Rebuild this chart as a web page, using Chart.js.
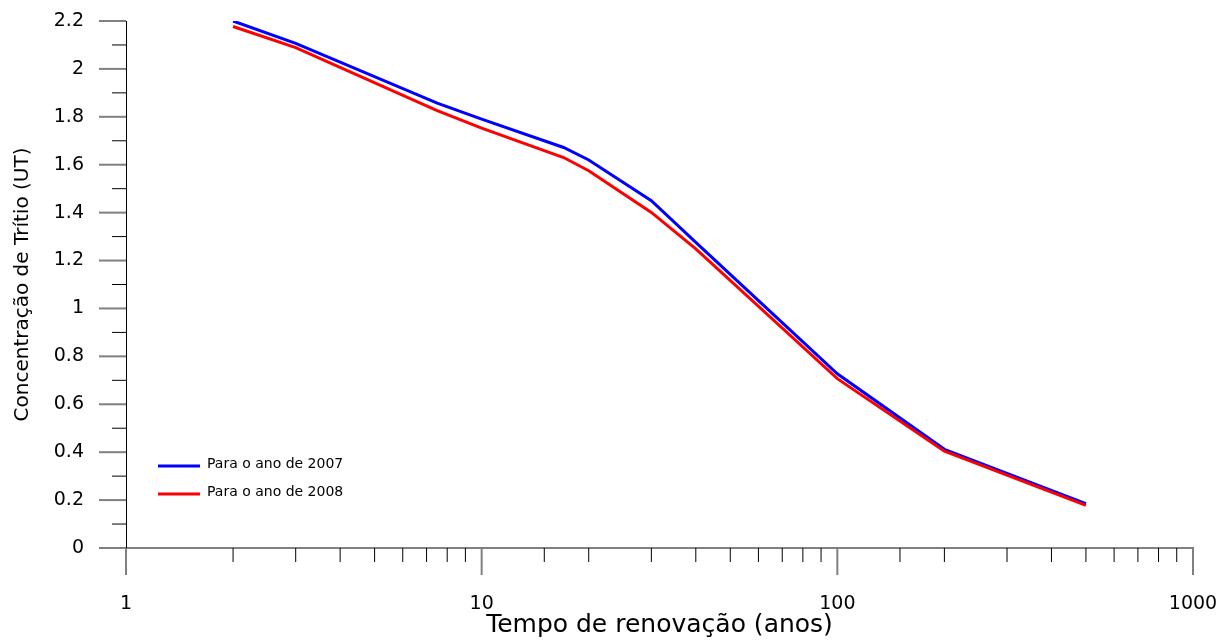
<!DOCTYPE html>
<html>
<head>
<meta charset="utf-8">
<title>Concentração de Trítio</title>
<script src="https://cdn.jsdelivr.net/npm/chart.js@4/dist/chart.umd.min.js"></script>
<style>
    html, body { margin: 0; padding: 0; background: #fff; }
    #wrap { width: 1232px; height: 644px; }
</style>
</head>
<body>
<div id="wrap"><canvas id="tritioChart"></canvas></div>
<script>
// Tempo de renovação (anos)
const renewalTimes = [2, 3, 7.5, 10, 17, 20, 30, 40, 100, 200, 500];
// Concentração de trítio (UT)
const conc2007 = [2.20, 2.107, 1.857, 1.79, 1.672, 1.62, 1.45, 1.276, 0.727, 0.412, 0.185];
const conc2008 = [2.177, 2.089, 1.826, 1.753, 1.63, 1.575, 1.401, 1.249, 0.707, 0.404, 0.178];
const seriesLabels = ['Para o ano de 2007', 'Para o ano de 2008'];
const xTickLabels = [1, 10, 100, 1000];

const FONT = 'DejaVu Sans';

function toPoints(xs, ys) {
    return xs.map((x, i) => ({ x: x, y: ys[i] }));
}

function isDecade(v) {
    const l = Math.log10(v);
    return Math.abs(l - Math.round(l)) < 1e-9;
}

function isMajorY(v) {
    return Math.round(v * 10) % 2 === 0;
}

// tick marks: long for major, short for minor (drawn outside the plot)
const tickMarks = {
    id: 'tickMarks',
    afterDraw(chart) {
        const { ctx, chartArea, scales: { x, y } } = chart;
        ctx.save();
        x.ticks.forEach(t => {
            const px = x.getPixelForValue(t.value);
            const major = isDecade(t.value);
            ctx.strokeStyle = major ? '#808080' : '#000';
            ctx.lineWidth = major ? 2 : 1;
            ctx.beginPath();
            ctx.moveTo(px, chartArea.bottom);
            ctx.lineTo(px, chartArea.bottom + (major ? 27 : 14));
            ctx.stroke();
        });
        y.ticks.forEach(t => {
            const py = y.getPixelForValue(t.value);
            const major = isMajorY(t.value);
            ctx.strokeStyle = major ? '#808080' : '#000';
            ctx.lineWidth = major ? 2 : 1;
            ctx.beginPath();
            ctx.moveTo(chartArea.left, py);
            ctx.lineTo(chartArea.left - (major ? 27 : 14), py);
            ctx.stroke();
        });
        ctx.restore();
    }
};

// legend inside the plot, lower left
const innerLegend = {
    id: 'innerLegend',
    afterDatasetsDraw(chart) {
        const { ctx, chartArea } = chart;
        const x0 = chartArea.left + 32;
        const rows = [chartArea.bottom - 82, chartArea.bottom - 54];
        ctx.save();
        ctx.font = '14px "' + FONT + '"';
        ctx.textBaseline = 'middle';
        ctx.fillStyle = '#000';
        chart.data.datasets.forEach((ds, i) => {
            ctx.strokeStyle = ds.borderColor;
            ctx.lineWidth = 3;
            ctx.beginPath();
            ctx.moveTo(x0, rows[i]);
            ctx.lineTo(x0 + 42, rows[i]);
            ctx.stroke();
            ctx.fillText(ds.label, x0 + 49, rows[i] - 2);
        });
        ctx.restore();
    }
};

new Chart(document.getElementById('tritioChart'), {
    type: 'scatter',
    data: {
        datasets: [
            {
                label: seriesLabels[0],
                data: toPoints(renewalTimes, conc2007),
                borderColor: '#0000ff',
                backgroundColor: '#0000ff',
                borderWidth: 3,
                showLine: true,
                pointRadius: 0,
                order: 1
            },
            {
                label: seriesLabels[1],
                data: toPoints(renewalTimes, conc2008),
                borderColor: '#ff0000',
                backgroundColor: '#ff0000',
                borderWidth: 3,
                showLine: true,
                pointRadius: 0,
                order: 0
            }
        ]
    },
    options: {
        responsive: true,
        maintainAspectRatio: false,
        animation: false,
        layout: { padding: { left: 0, top: 21, right: 39, bottom: 0 } },
        plugins: {
            legend: { display: false },
            tooltip: { enabled: false }
        },
        scales: {
            x: {
                type: 'logarithmic',
                min: 1,
                max: 1000,
                afterFit: (scale) => {
                    scale.height = 96;
                    scale.paddingLeft = 0;
                    scale.paddingRight = 0;
                },
                grid: {
                    drawOnChartArea: false,
                    tickLength: 27,
                    tickColor: 'rgba(0,0,0,0)'
                },
                border: { color: '#808080', width: 2 },
                ticks: {
                    autoSkip: false,
                    maxRotation: 0,
                    padding: 18,
                    color: '#000',
                    font: { family: FONT, size: 19 },
                    callback: (v) => (isDecade(v) && xTickLabels.includes(Math.round(v))) ? String(Math.round(v)) : ''
                },
                title: {
                    display: true,
                    text: 'Tempo de renovação (anos)',
                    color: '#000',
                    font: { family: FONT, size: 25 },
                    padding: { top: 0, bottom: 4 }
                }
            },
            y: {
                min: 0,
                max: 2.2,
                afterFit: (scale) => {
                    scale.width = 126;
                    scale.paddingTop = 0;
                    scale.paddingBottom = 0;
                },
                grid: {
                    drawOnChartArea: false,
                    tickLength: 27,
                    tickColor: 'rgba(0,0,0,0)'
                },
                border: { color: '#000', width: 1 },
                ticks: {
                    stepSize: 0.1,
                    autoSkip: false,
                    padding: 15,
                    color: '#000',
                    font: { family: FONT, size: 19 },
                    callback: (v) => isMajorY(v) ? String(+v.toFixed(1)) : ''
                },
                title: {
                    display: true,
                    text: 'Concentração de Trítio (UT)',
                    color: '#000',
                    font: { family: FONT, size: 20 },
                    padding: { top: 11, bottom: 0 }
                }
            }
        }
    },
    plugins: [tickMarks, innerLegend]
});
</script>
</body>
</html>
